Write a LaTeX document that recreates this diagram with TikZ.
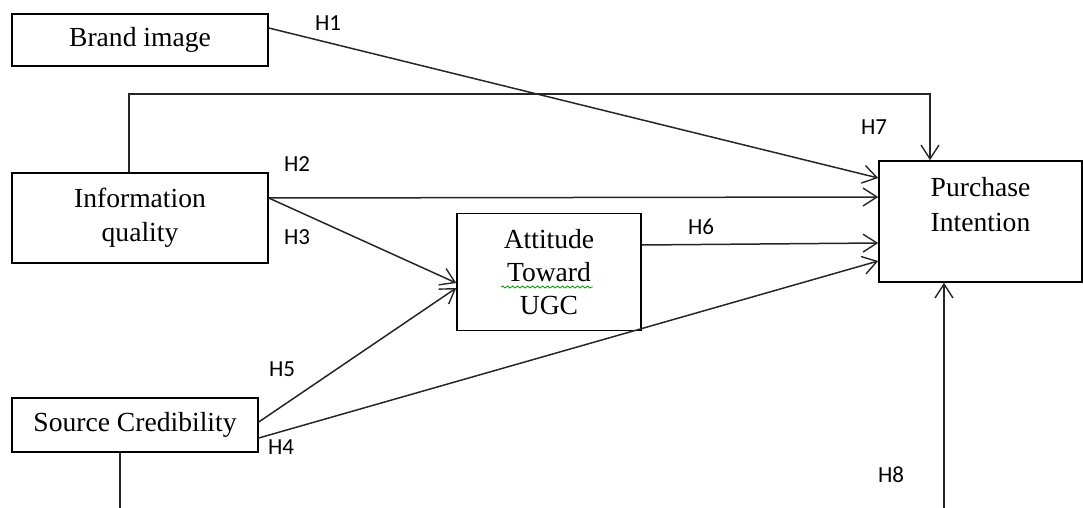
\documentclass[tikz,border=0pt]{standalone}
\usepackage{fontspec}
\setmainfont{Liberation Serif}
\newfontfamily\labfont{Carlito}
\usetikzlibrary{arrows.meta,decorations.pathmorphing}
\begin{document}
\begin{tikzpicture}[x=0.5pt,y=-0.5pt,
  box/.style={draw, line width=0.75pt, inner sep=0pt, align=center,
    font=\fontsize{13.8}{17}\selectfont},
  hlab/.style={font=\labfont\fontsize{11.5}{13}\selectfont, inner sep=0pt},
  conn/.style={line width=0.75pt, draw=black!85},
  arr/.style={conn, -{Straight Barb[length=7pt,width=9pt,line width=0.7pt]}}]
\useasboundingbox (0,0) rectangle (1083,508);

% boxes
\node[box, minimum width=128pt, minimum height=26pt] (brand) at (140,40) {Brand image};
\node[box, minimum width=128pt, minimum height=45pt] (info) at (140,218) {Information\\quality};
\node[box, minimum width=123pt, minimum height=27pt] (sc) at (135,425) {Source Credibility};
\node[box, minimum width=92pt, minimum height=58.5pt, font=\fontsize{13.8}{16.5}\selectfont] (att) at (549,272) {Attitude\\Toward\\UGC};
\node[box, minimum width=101.5pt, minimum height=60.5pt, font=\fontsize{13.8}{17.5}\selectfont] (pi) at (980.5,221.5) {Purchase\\Intention\\\mbox{}};

% spell-check underline
\draw[green!60!black, line width=0.4pt, decorate, decoration={snake, segment length=2.5pt, amplitude=0.5pt}] (501,287) -- (593,287);

% connectors
\draw[arr] (brand.east |- 0,28) -- (pi.west |- 0,178);
\draw[arr] (info.north -| 129,0) -- (129,94) -- (930,94) -- (pi.north -| 930,0);
\draw[arr] (info.east |- 0,198) -- (pi.west |- 0,197);
\draw[arr] (info.east |- 0,198) -- (att.west |- 0,283);
\draw[arr] (att.east |- 0,245) -- (pi.west |- 0,243);
\draw[arr] (sc.east |- 0,422) -- (att.west |- 0,288);
\draw[arr] (sc.east |- 0,438) -- (pi.west |- 0,261);
\coordinate (h8start) at (944,508);
\draw[arr] (h8start) -- (pi.south -| 944,0);
\coordinate (scend) at (120,508);
\draw[conn] (sc.south -| 120,0) -- (scend);

% labels
\node[hlab] (l1) at (328,23) {H1};
\node[hlab] (l7) at (874,127) {H7};
\node[hlab] (l2) at (297,164) {H2};
\node[hlab] (l3) at (297,237) {H3};
\node[hlab] (l6) at (701,227) {H6};
\node[hlab] (l5) at (282,369) {H5};
\node[hlab] (l4) at (281,447) {H4};
\node[hlab] (l8) at (891,475) {H8};
\end{tikzpicture}
\end{document}
